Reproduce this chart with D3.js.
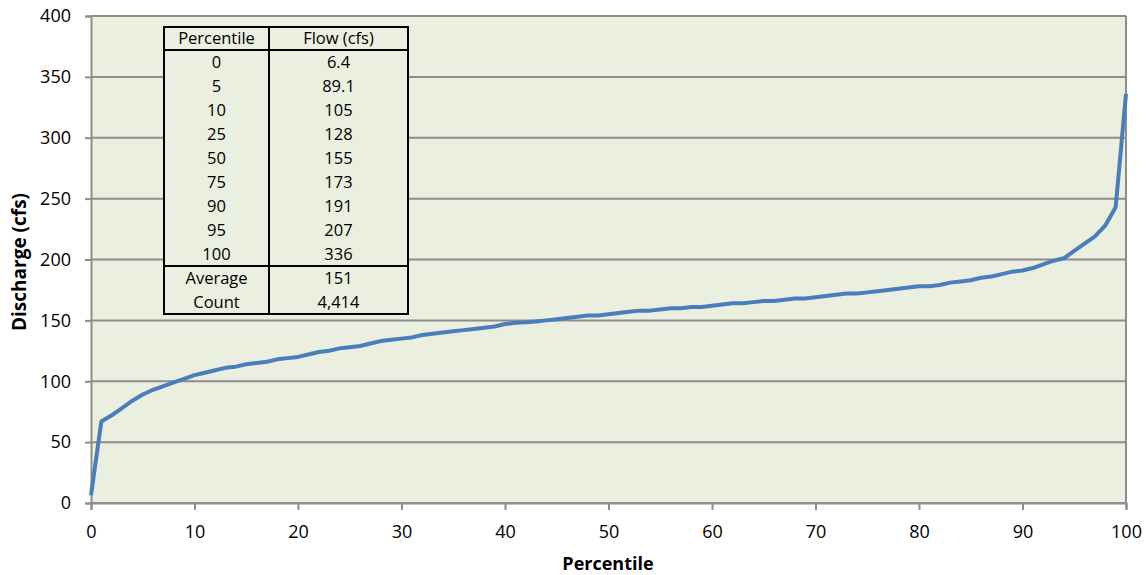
<!DOCTYPE html>
<html><head><meta charset="utf-8">
<script src="https://cdn.jsdelivr.net/npm/d3@7"></script>
<style>
body{margin:0;background:#fff;}
text{font-family:"Open Sans",sans-serif;fill:#000;}
</style></head>
<body><svg id="c" width="1146" height="575"></svg>
<script>
// Flow duration curve: discharge (cfs) at each percentile 0..100
const percentiles = d3.range(0, 101);
const discharge = [6.4,67,72,78,84,89.1,93,96,99,102,
105,107,109,111,112,114,115,116,118,119,
120,122,124,125,127,128,129,131,133,134,
135,136,138,139,140,141,142,143,144,145,
147,148,148.5,149,150,151,152,153,154,154,
155,156,157,158,158,159,160,160,161,161,
162,163,164,164,165,166,166,167,168,168,
169,170,171,172,172,173,174,175,176,177,
178,178,179,181,182,183,185,186,188,190,
191,193,196,199,201,207,213,219,228,243,336];
const yTicks = [0,50,100,150,200,250,300,350,400];
const xTicks = [0,10,20,30,40,50,60,70,80,90,100];
const tableHeader = ["Percentile","Flow (cfs)"];
const tablePct = ["0","5","10","25","50","75","90","95","100"];
const tableFlow = ["6.4","89.1","105","128","155","173","191","207","336"];
const summaryLabels = ["Average","Count"];
const summaryValues = ["151","4,414"];

const svg = d3.select("#c");
const L=91, R=1126, T=16, B=503;
const x = d3.scaleLinear().domain([0,100]).range([L,R]);
const y = d3.scaleLinear().domain([0,400]).range([B,T]);

svg.append("rect").attr("x",L).attr("y",T).attr("width",R-L).attr("height",B-T).attr("fill","#EBEFDF");

// gridlines
svg.append("g").selectAll("line").data(yTicks).join("line")
  .attr("x1",L).attr("x2",R).attr("y1",d=>y(d)).attr("y2",d=>y(d))
  .attr("stroke","#8d8d8d").attr("stroke-width",2);
// right border
svg.append("line").attr("x1",R).attr("x2",R).attr("y1",T).attr("y2",B).attr("stroke","#8d8d8d").attr("stroke-width",2);

const yAxis = svg.append("g").attr("transform",`translate(${L},0)`)
  .call(d3.axisLeft(y).tickValues(yTicks).tickSize(6).tickPadding(14));
const xAxis = svg.append("g").attr("transform",`translate(0,${B})`)
  .call(d3.axisBottom(x).tickValues(xTicks).tickSize(7).tickPadding(15));
[yAxis,xAxis].forEach(a=>{
  a.select(".domain").attr("stroke","#8d8d8d").attr("stroke-width",2);
  a.selectAll(".tick line").attr("stroke","#8d8d8d").attr("stroke-width",2);
  a.selectAll(".tick text").attr("font-family","Open Sans").attr("font-size",18).attr("fill","#000");
});

svg.append("text").attr("transform","translate(26,262) rotate(-90)").attr("text-anchor","middle")
  .attr("font-weight","bold").attr("font-size",19).text("Discharge (cfs)");
svg.append("text").attr("x",608).attr("y",570).attr("text-anchor","middle")
  .attr("font-weight","bold").attr("font-size",18).text("Percentile");

// line
const line = d3.line().x((d,i)=>x(percentiles[i])).y(d=>y(d));
svg.append("path").datum(discharge).attr("d",line).attr("fill","none")
  .attr("stroke","#4A7EBB").attr("stroke-width",4).attr("stroke-linejoin","round");

// table
const tx0=164, tx1=269, tx2=408, ty0=27, hh=23, rh=24;
const rows = [tableHeader].concat(tablePct.map((p,i)=>[p,tableFlow[i]]), summaryLabels.map((s,i)=>[s,summaryValues[i]]));
const rowY = i => i===0 ? ty0 : ty0+hh+(i-1)*rh;
const ty3 = rowY(rows.length);
const tg = svg.append("g");
tg.append("rect").attr("x",tx0).attr("y",ty0).attr("width",tx2-tx0).attr("height",ty3-ty0)
  .attr("fill","#EBEFDF").attr("stroke","#000").attr("stroke-width",2);
tg.append("line").attr("x1",tx1).attr("x2",tx1).attr("y1",ty0).attr("y2",ty3).attr("stroke","#000").attr("stroke-width",2);
[1,1+tablePct.length].forEach(i=>{
  tg.append("line").attr("x1",tx0).attr("x2",tx2).attr("y1",rowY(i)).attr("y2",rowY(i)).attr("stroke","#000").attr("stroke-width",2);
});
rows.forEach((r,i)=>{
  const cy = rowY(i)+ (i===0?hh:rh)/2;
  tg.append("text").attr("x",(tx0+tx1)/2).attr("y",cy).attr("dy","0.35em").attr("text-anchor","middle").attr("font-size",16.5).text(r[0]);
  tg.append("text").attr("x",(tx1+tx2)/2).attr("y",cy).attr("dy","0.35em").attr("text-anchor","middle").attr("font-size",16.5).text(r[1]);
});
</script></body></html>
